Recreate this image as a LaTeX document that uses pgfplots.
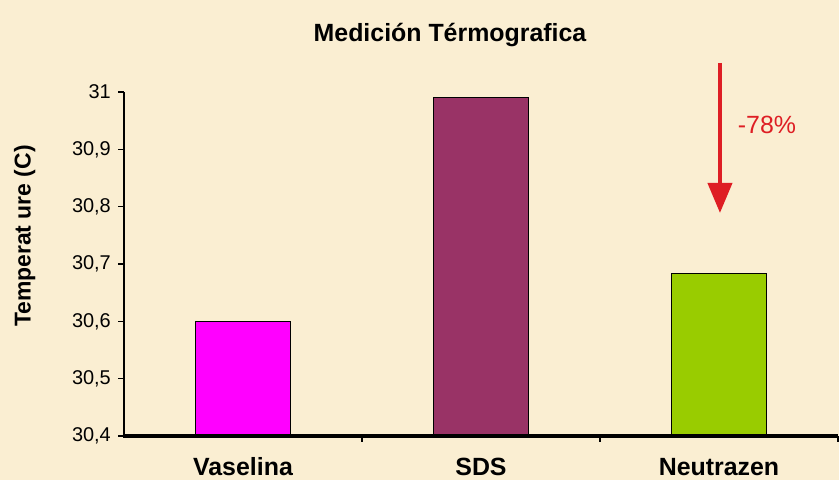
\documentclass[border=0pt]{standalone}
\usepackage{fontspec}
\setmainfont{Liberation Sans}
\usepackage{pgfplots}
\pgfplotsset{compat=1.18}
\usetikzlibrary{arrows.meta}
\definecolor{bg}{RGB}{250,238,210}
\definecolor{plum}{RGB}{153,51,102}
\definecolor{lime}{RGB}{153,204,0}
\definecolor{mag}{RGB}{255,0,255}
\definecolor{arrred}{RGB}{222,30,36}
\begin{document}
\begin{tikzpicture}[x=1bp,y=1bp]
\useasboundingbox (0,0) rectangle (839,480);
\fill[bg] (0,0) rectangle (839,480);
\begin{axis}[
  at={(124bp,44bp)}, anchor=south west,
  scale only axis, width=714bp, height=344bp,
  xmin=-0.5, xmax=2.5, ymin=30.4, ymax=31,
  axis x line=bottom, axis y line=left,
  axis line style={-, black, line width=2.4bp},
  ytick={30.4,30.5,30.6,30.7,30.8,30.9,31},
  /pgf/number format/use comma,
  /pgf/number format/fixed,
  /pgf/number format/precision=1,
  /pgf/number format/assume math mode=true,
  yticklabel style={font=\fontsize{20}{23}\selectfont, anchor=east, inner sep=0pt, xshift=-7bp},
  ytick style={line width=1.5bp, black},
  tick align=outside, major tick length=6bp,
  xtick={0.5,1.5,2.5}, xticklabels={},
  xtick style={line width=2bp, black},
  extra x ticks={0,1,2},
  extra x tick labels={Vaselina,SDS,Neutrazen},
  extra x tick style={major tick length=0bp, tick style={draw=none},
    xticklabel style={font=\bfseries\fontsize{25}{28}\selectfont, anchor=base, yshift=-40bp, inner sep=0pt}},
  ylabel={Temperat ure (C)},
  ylabel style={font=\bfseries\fontsize{23}{26}\selectfont, at={(axis description cs:-0.139,0.581)}, anchor=center, rotate=0},
  ybar, bar width=95bp,
]
\addplot[bar shift=0pt, fill=mag, draw=black, line width=0.8bp] coordinates {(0,30.6)};
\addplot[bar shift=0pt, fill=plum, draw=black, line width=0.8bp] coordinates {(1,30.99)};
\addplot[bar shift=0pt, fill=lime, draw=black, line width=0.8bp] coordinates {(2,30.684)};
\coordinate (atop) at (axis cs:2.004,31.051);
\coordinate (atip) at (axis cs:2.004,30.789);
\coordinate (pct) at (axis cs:2.2017,30.943);
\coordinate (org) at (rel axis cs:0,0);
\coordinate (xend) at (rel axis cs:1,0);
\coordinate (ytop) at (rel axis cs:0,1);
\end{axis}
\draw[black, line width=3.2bp] ([xshift=-1.2bp]org) -- (xend);
\draw[black, line width=2.4bp] (org) -- (ytop);
\draw[arrred, line width=4bp, -{Triangle[length=30bp,width=24bp]}] (atop) -- (atip);
\node[arrred, font=\fontsize{25}{28}\selectfont, anchor=center, inner sep=0pt] at (pct) {-78\%};
\node[font=\bfseries\fontsize{25}{29}\selectfont, anchor=base, inner sep=0pt] at (450,438) {Medición Térmografica};
\end{tikzpicture}
\end{document}
